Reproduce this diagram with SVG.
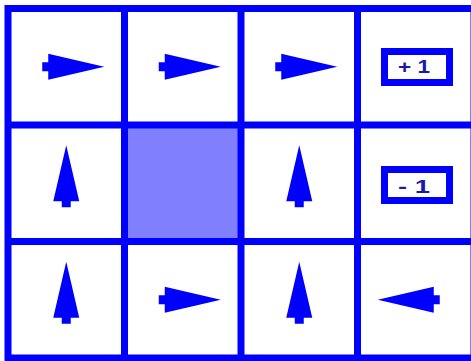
<svg xmlns="http://www.w3.org/2000/svg" width="471" height="361" viewBox="0 0 471 361">
<style>
.grid{stroke:#0000ff;stroke-width:7;fill:none}
.arrow{fill:#0000ff}
.box{fill:#ffffff;stroke:#0000ff;stroke-width:7}
.lbl{font-family:"Liberation Sans",Arial,sans-serif;font-weight:bold;font-size:18px;fill:#1a1aa8;text-anchor:middle}
</style>
<defs>
<path id="arr" d="M38,0 L-18,-13 L-18,-4.5 L-24,-4.5 L-24,4.5 L-18,4.5 L-18,13 Z"/>
</defs>
<rect x="0" y="0" width="471" height="361" fill="#ffffff"/>
<g id="cell-1-1"><rect x="124.5" y="125" width="116.5" height="116.5" fill="#8080ff"/></g>
<g id="connectors" class="grid">
<rect x="8" y="8.5" width="466" height="349.5"/>
<line x1="124.5" y1="8.5" x2="124.5" y2="358"/>
<line x1="241" y1="8.5" x2="241" y2="358"/>
<line x1="357.5" y1="8.5" x2="357.5" y2="358"/>
<line x1="8" y1="125" x2="474" y2="125"/>
<line x1="8" y1="241.5" x2="474" y2="241.5"/>
</g>
<g id="cell-0-0"><use href="#arr" class="arrow" transform="translate(66.25,66.75)"/></g>
<g id="cell-0-1"><use href="#arr" class="arrow" transform="translate(182.75,66.75)"/></g>
<g id="cell-0-2"><use href="#arr" class="arrow" transform="translate(299.25,66.75)"/></g>
<g id="cell-0-3"><rect class="box" x="384.5" y="51.5" width="65" height="31"/><text class="lbl" x="414" y="72.5" textLength="32" lengthAdjust="spacingAndGlyphs">+ 1</text></g>
<g id="cell-1-0"><use href="#arr" class="arrow" transform="translate(66.25,183.25) rotate(-90)"/></g>
<g id="cell-1-2"><use href="#arr" class="arrow" transform="translate(299.25,183.25) rotate(-90)"/></g>
<g id="cell-1-3"><rect class="box" x="384.5" y="169.5" width="65" height="31"/><text class="lbl" x="414" y="192.5" textLength="32" lengthAdjust="spacingAndGlyphs">- 1</text></g>
<g id="cell-2-0"><use href="#arr" class="arrow" transform="translate(66.25,299.75) rotate(-90)"/></g>
<g id="cell-2-1"><use href="#arr" class="arrow" transform="translate(182.75,299.75)"/></g>
<g id="cell-2-2"><use href="#arr" class="arrow" transform="translate(299.25,299.75) rotate(-90)"/></g>
<g id="cell-2-3"><use href="#arr" class="arrow" transform="translate(415.75,299.75) rotate(180)"/></g>
</svg>
